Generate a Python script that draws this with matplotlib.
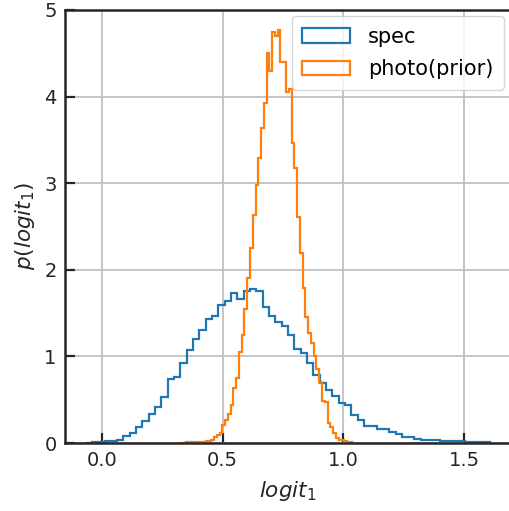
import numpy as np
import matplotlib
matplotlib.use("Agg")
import matplotlib.pyplot as plt

# bin layout of the two density histograms
spec_lo, spec_width, spec_nbins = -0.068, 0.0262, 64
photo_lo, photo_width, photo_nbins = 0.315, 0.01147, 64

# density per bin, "spec" sample
spec_density = [
    0.005, 0.008, 0.012, 0.02, 0.025, 0.04, 0.08, 0.12, 0.19, 0.25,
    0.33, 0.41, 0.53, 0.74, 0.76, 0.92, 1.07, 1.20, 1.30, 1.43,
    1.47, 1.59, 1.64, 1.73, 1.66, 1.76, 1.78, 1.76, 1.57, 1.47,
    1.40, 1.35, 1.25, 1.09, 1.04, 0.92, 0.79, 0.69, 0.61, 0.54,
    0.46, 0.44, 0.32, 0.27, 0.20, 0.20, 0.16, 0.16, 0.13, 0.10,
    0.07, 0.07, 0.05, 0.035, 0.035, 0.03, 0.025, 0.025, 0.022, 0.02,
    0.015, 0.012, 0.01, 0.008,
]

# density per bin, "photo(prior)" sample
photo_density = [
    0.003, 0.004, 0.005, 0.006, 0.008, 0.01, 0.01, 0.012, 0.015, 0.015,
    0.02, 0.025, 0.04, 0.07, 0.09, 0.12, 0.21, 0.27, 0.34, 0.44,
    0.63, 0.75, 1.05, 1.25, 1.55, 1.90, 2.25, 2.63, 2.98, 3.29,
    3.64, 3.93, 4.50, 4.29, 4.75, 4.70, 4.77, 4.40, 4.40, 4.05,
    4.09, 3.46, 3.17, 2.61, 2.19, 1.79, 1.45, 1.27, 1.15, 1.00,
    0.85, 0.70, 0.48, 0.47, 0.23, 0.19, 0.11, 0.06, 0.04, 0.03,
    0.02, 0.01, 0.008, 0.005,
]

spec_edges = spec_lo + spec_width * np.arange(spec_nbins + 1)
photo_edges = photo_lo + photo_width * np.arange(photo_nbins + 1)

plt.rcParams["font.family"] = "DejaVu Sans"
plt.rcParams["mathtext.fontset"] = "dejavusans"

fig = plt.figure(figsize=(5.09, 5.11), dpi=100)
ax = fig.add_axes([65 / 509, 68 / 511, 445 / 509, 433 / 511])

ax.hist(spec_edges[:-1] + spec_width / 2, bins=spec_edges, weights=spec_density,
        histtype="step", color="#1f77b4", linewidth=1.6, label="spec")
ax.hist(photo_edges[:-1] + photo_width / 2, bins=photo_edges, weights=photo_density,
        histtype="step", color="#ff7f0e", linewidth=1.6, label="photo(prior)")

ax.set_xlim(-0.153, 1.69)
ax.set_ylim(0, 5)
ax.set_xticks([0.0, 0.5, 1.0, 1.5])
ax.set_yticks([0, 1, 2, 3, 4, 5])
ax.grid(True, color="#c0c0c0", linewidth=1.3)
ax.set_axisbelow(True)

for s in ax.spines.values():
    s.set_linewidth(1.8)
    s.set_color("#262626")
ax.tick_params(direction="in", length=7, width=1.6, color="#262626",
               labelsize=14, labelcolor="#262626", pad=6)

ax.set_xlabel("$logit_1$", fontsize=15.5, color="#262626", labelpad=6)
ax.set_ylabel("$p(logit_1)$", fontsize=15.5, color="#262626", labelpad=5)

ax.legend(loc="upper right", fontsize=15, handlelength=2.3, handleheight=0.7,
          labelspacing=0.6, borderpad=0.5, handletextpad=0.85,
          edgecolor="#cccccc", borderaxespad=0.3)

fig.savefig("out.png", dpi=100)
